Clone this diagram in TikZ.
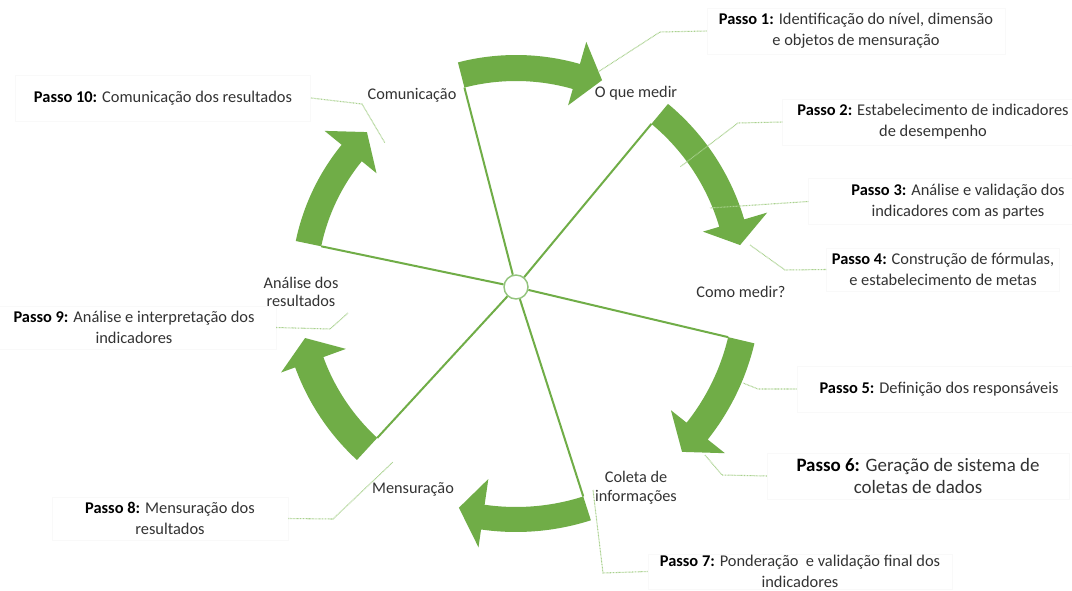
\documentclass[tikz,border=0pt]{standalone}
\usepackage{fontspec}
\setmainfont{Carlito}
\usetikzlibrary{calc}
\definecolor{agreen}{HTML}{70AD47}
\definecolor{lgreen}{HTML}{A9D18E}
\definecolor{cgreen}{HTML}{93C47D}
\definecolor{txt}{HTML}{333333}
\definecolor{boxline}{HTML}{F9F9F9}
\newcommand\pb[1]{{\color{black}\bfseries #1}}
% #1 base angle, #2 neck angle, #3 tip angle, #4 inner r, #5 outer r, #6 inner barb r, #7 outer barb r, #8 tip r
\newcommand\garrow[8]{%
  \fill[arrowfill] ($(C)+(#1:#5)$) arc[start angle=#1,end angle=#2,radius=#5]
   -- ($(C)+(#2:#7)$) -- ($(C)+(#3:#8)$) -- ($(C)+(#2:#6)$) -- ($(C)+(#2:#4)$)
   arc[start angle=#2,end angle=#1,radius=#4] -- cycle;}
\begin{document}
\begin{tikzpicture}[x=0.75pt,y=0.75pt,
  arrowfill/.style={fill=agreen},
  spoke/.style={draw=agreen,line width=1.5pt},
  hub/.style={circle,draw=cgreen,line width=1.1pt,fill=white,minimum size=18pt,inner sep=0pt},
  leader/.style={draw=lgreen,line width=0.8pt,dash pattern=on 0.6pt off 0.5pt},
  lbl/.style={text=txt,font=\fontsize{12.2}{14.25}\selectfont,align=center,inner sep=1pt},
  passo/.style={text=txt,font=\fontsize{12.3}{15.75}\selectfont,align=center,draw=boxline,inner ysep=4pt},
  passobig/.style={passo,font=\fontsize{14.2}{16.5}\selectfont}]
\useasboundingbox (0,0) rectangle (1072,590);
\fill[white] (0,0) rectangle (1072,590);
\coordinate (C) at (516,303);

% curved arrows
\garrow{104.5}{74}{67.4}{206}{232}{189}{255}{224}
\garrow{50.3}{16.5}{10.6}{212}{238}{195}{262}{228}
\garrow{-13.3}{-38.5}{-44.8}{218}{245}{198}{267}{234}
\garrow{-72.2}{-98.2}{-104.5}{220}{245}{194}{263}{228}
\garrow{-132.6}{-160}{-166.4}{205}{235}{181}{250}{217}
\garrow{168.2}{140.8}{133.9}{199}{225}{180}{247}{215}

% spoke ends (inner base corners)
\coordinate (b1) at ($(C)+(104.5:206)$);
\coordinate (b2) at ($(C)+(50.3:212)$);
\coordinate (b3) at ($(C)+(-13.3:218)$);
\coordinate (b4) at ($(C)+(-72.2:220)$);
\coordinate (b5) at ($(C)+(-132.6:205)$);
\coordinate (b6) at ($(C)+(168.2:199)$);

\node[hub] (c) at (C) {};
\foreach \b in {b1,b2,b3,b4,b5,b6} \draw[spoke] (c) -- (\b);

% stage labels
\node[lbl] (comunic) at (412,495) {Comunicação};
\node[lbl] (oque) at (636,497) {O que medir};
\node[lbl] (como) at (741,298) {Como medir?};
\node[lbl] (coleta) at (636,102.5) {Coleta de\\informações};
\node[lbl,font=\fontsize{12.2}{13.5}\selectfont] (mensur) at (413,101) {Mensuração};
\node[lbl,font=\fontsize{12.2}{13.5}\selectfont] (analise) at (301,298) {Análise dos\\resultados};

% step labels
\node[passo,inner xsep=9pt] (p1) at (856,559) {\pb{Passo 1:} Identificação do nível, dimensão\\e objetos de mensuração};
\node[passo,inner xsep=11pt] (p2) at (933,468) {\pb{Passo 2:} Estabelecimento de indicadores\\de desempenho};
\node[passo,inner xsep=32pt] (p3) at (958,388.5) {\pb{Passo 3:} Análise e validação dos\\indicadores com as partes};
\node[passo,inner xsep=4pt] (p4) at (943,320.5) {\pb{Passo 4:} Construção de fórmulas,\\e estabelecimento de metas};
\node[passo,inner xsep=17pt,inner ysep=12pt] (p5) at (939,201) {\pb{Passo 5:} Definição dos responsáveis};
\node[passobig,inner xsep=22pt] (p6) at (918,114) {\pb{Passo 6:} Geração de sistema de\\coletas de dados};
\node[passo,inner xsep=9pt,inner ysep=1pt] (p7) at (800,18.5) {\pb{Passo 7:} Ponderação\ \ e validação final dos\\indicadores};
\node[passo,inner xsep=25pt] (p8) at (170,71.5) {\pb{Passo 8:} Mensuração dos\\resultados};
\node[passo,inner xsep=16pt] (p9) at (134,262.5) {\pb{Passo 9:} Análise e interpretação dos\\indicadores};
\node[passo,inner xsep=14pt,inner ysep=12pt] (p10) at (163,492) {\pb{Passo 10:} Comunicação dos resultados};

% leader line bends and ends
\coordinate (l1a) at (660,558); \coordinate (l1b) at (598,518);
\coordinate (l2a) at (738,467); \coordinate (l2b) at (680,423);
\coordinate (l3b) at (710,382);
\coordinate (l4a) at (785,320); \coordinate (l4b) at (750,345);
\coordinate (l5a) at (758,201); \coordinate (l5b) at (743,207);
\coordinate (l6a) at (722,115); \coordinate (l6b) at (705,135);
\coordinate (l7a) at (603,17);  \coordinate (l7b) at (593,100);
\coordinate (l8a) at (333,71);  \coordinate (l8b) at (393,128);
\coordinate (l9a) at (330,261); \coordinate (l9b) at (348,277);
\coordinate (l10a) at (362,486); \coordinate (l10b) at (385,447);

\draw[leader] (p1.west) -- (l1a) -- (l1b);
\draw[leader] (p2.west) -- (l2a) -- (l2b);
\draw[leader] (p3.west) -- (l3b);
\draw[leader] (p4.west) -- (l4a) -- (l4b);
\draw[leader] (p5.west) -- (l5a) -- (l5b);
\draw[leader] (p6.west) -- (l6a) -- (l6b);
\draw[leader] (p7.west) -- (l7a) -- (l7b);
\draw[leader] (p8.east) -- (l8a) -- (l8b);
\draw[leader] (p9.east) -- (l9a) -- (l9b);
\draw[leader] (p10.east) -- (l10a) -- (l10b);
\end{tikzpicture}
\end{document}
